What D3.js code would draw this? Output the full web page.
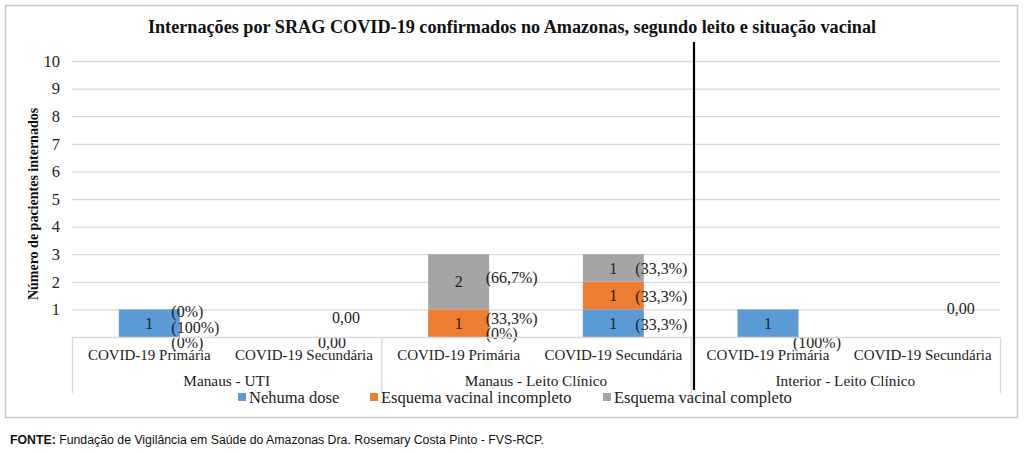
<!DOCTYPE html>
<html><head><meta charset="utf-8">
<script src="https://cdn.jsdelivr.net/npm/d3@7/dist/d3.min.js"></script>
<style>body{margin:0;background:#fff}svg{display:block}</style>
</head><body>
<script>
// ---- data ----
const groups = ["Manaus - UTI", "Manaus - Leito Clínico", "Interior - Leito Clínico"];
const categories = ["COVID-19 Primária", "COVID-19 Secundária", "COVID-19 Primária", "COVID-19 Secundária", "COVID-19 Primária", "COVID-19 Secundária"];
const seriesNames = ["Nehuma dose", "Esquema vacinal incompleto", "Esquema vacinal completo"];
const nenhumaDose = [1, 0, 0, 1, 1, 0];
const incompleto = [0, 0, 1, 1, 0, 0];
const completo = [0, 0, 2, 1, 0, 0];
const yTicks = [1, 2, 3, 4, 5, 6, 7, 8, 9, 10];
// percentage labels [category, series, text]
const pctLabels = [
  [0, 2, "(0%)"], [0, 0, "(100%)"], [0, 1, "(0%)"],
  [1, 0, "0,00"], [1, 1, "0,00"],
  [2, 2, "(66,7%)"], [2, 1, "(33,3%)"], [2, 0, "(0%)"],
  [3, 2, "(33,3%)"], [3, 1, "(33,3%)"], [3, 0, "(33,3%)"],
  [4, 0, "(100%)"],
  [5, 0, "0,00"]
];
// ---- layout nudges for percentage labels (dx, dy from segment centre) ----
const pctNudge = [
  [22, 2], [22, 4], [22, 33],
  [28, -20], [14, 5],
  [27, -4], [27, -5], [27, -4],
  [22, 0], [22, 1], [22, 1],
  [25, 19],
  [24, -29]
];

const W = 1024, H = 453;
const colors = ["#5b9bd5", "#ed7d31", "#a5a5a5"];
const serif = "'Liberation Serif','Times New Roman',serif";
const svg = d3.select("body").append("svg").attr("width", W).attr("height", H);

// outer border
svg.append("rect").attr("x", 5.5).attr("y", 5.5).attr("width", 1012).attr("height", 412)
  .attr("fill", "none").attr("stroke", "#c8c8c8").attr("stroke-width", 1.5);

const x0 = 72, x1 = 1000;
const x = d3.scaleBand().domain(d3.range(categories.length)).range([x0, x1]).paddingInner(0).paddingOuter(0);
const y = d3.scaleLinear().domain([0, 10]).range([337, 61]);
const bw = 61;

// gridlines
svg.append("g").selectAll("line").data(yTicks).join("line")
  .attr("x1", x0).attr("x2", x1).attr("y1", d => y(d) + 0.5).attr("y2", d => y(d) + 0.5)
  .attr("stroke", "#d9d9d9").attr("stroke-width", 1.3);

// y axis labels
const yAxis = d3.axisLeft(y).tickValues(yTicks).tickSize(0).tickPadding(0).tickFormat(d3.format("d"));
const gy = svg.append("g").attr("transform", `translate(${x0 - 12},0)`).call(yAxis);
gy.select(".domain").remove();
gy.selectAll("text").attr("font-family", serif).attr("font-size", 16.5).attr("fill", "#222");

// y title
svg.append("text").attr("transform", "translate(38,204) rotate(-90)").attr("text-anchor", "middle")
  .attr("font-family", serif).attr("font-size", 14).attr("font-weight", "bold").attr("fill", "#111")
  .text("Número de pacientes internados");

// title
svg.append("text").attr("x", 512).attr("y", 33).attr("text-anchor", "middle")
  .attr("font-family", serif).attr("font-size", 18.2).attr("font-weight", "bold").attr("fill", "#111")
  .text("Internações por SRAG COVID-19 confirmados no Amazonas, segundo leito e situação vacinal");

// stacked bars
const table = categories.map((c, i) => ({i, s0: nenhumaDose[i], s1: incompleto[i], s2: completo[i]}));
const stack = d3.stack().keys(["s0", "s1", "s2"])(table);
const gBars = svg.append("g");
stack.forEach((layer, si) => {
  gBars.selectAll(null).data(layer.filter(d => d[1] - d[0] > 0)).join("rect")
    .attr("x", d => x(d.data.i) + (x.bandwidth() - bw) / 2)
    .attr("width", bw)
    .attr("y", d => y(d[1]))
    .attr("height", d => y(d[0]) - y(d[1]))
    .attr("fill", colors[si]);
  gBars.selectAll(null).data(layer.filter(d => d[1] - d[0] > 0)).join("text")
    .attr("x", d => x(d.data.i) + x.bandwidth() / 2)
    .attr("y", d => (y(d[0]) + y(d[1])) / 2)
    .attr("dy", "0.35em").attr("text-anchor", "middle")
    .attr("font-family", serif).attr("font-size", 16).attr("fill", "#222")
    .text(d => d[1] - d[0]);
});

// percentage labels
svg.append("g").selectAll("text").data(pctLabels).join("text")
  .attr("x", (d, k) => x(d[0]) + x.bandwidth() / 2 + pctNudge[k][0])
  .attr("y", (d, k) => { const s = stack[d[1]][d[0]]; return (y(s[0]) + y(s[1])) / 2 + pctNudge[k][1]; })
  .attr("dy", "0.35em").attr("text-anchor", "start")
  .attr("font-family", serif).attr("font-size", 16).attr("fill", "#222")
  .text(d => d[2]);

// category axis box
const gc = svg.append("g");
gc.append("line").attr("x1", x0).attr("x2", x1).attr("y1", 337.5).attr("y2", 337.5).attr("stroke", "#d9d9d9").attr("stroke-width", 1.3);
const bounds = [0, 2, 4, 6];
gc.selectAll("line.v").data(bounds).join("line").attr("class", "v")
  .attr("x1", d => d < 6 ? x(d) + 0.5 : x1 + 0.5).attr("x2", d => d < 6 ? x(d) + 0.5 : x1 + 0.5)
  .attr("y1", 337).attr("y2", 393).attr("stroke", "#d9d9d9").attr("stroke-width", 1.3);
gc.selectAll("text.cat").data(categories).join("text").attr("class", "cat")
  .attr("x", (d, i) => x(i) + x.bandwidth() / 2).attr("y", 355).attr("dy", "0.35em")
  .attr("text-anchor", "middle").attr("font-family", serif).attr("font-size", 15).attr("fill", "#222")
  .text(d => d);
gc.selectAll("text.grp").data(groups).join("text").attr("class", "grp")
  .attr("x", (d, g) => (x(g * 2) + x(g * 2) + 2 * x.bandwidth()) / 2).attr("y", 381).attr("dy", "0.35em")
  .attr("text-anchor", "middle").attr("font-family", serif).attr("font-size", 15.3).attr("fill", "#222")
  .text(d => d);

// black vertical separator
svg.append("line").attr("x1", 694).attr("x2", 694).attr("y1", 42).attr("y2", 390)
  .attr("stroke", "#000").attr("stroke-width", 2.2);

// legend
const legendX = [238, 370, 603];
const gl = svg.append("g");
seriesNames.forEach((n, i) => {
  gl.append("rect").attr("x", legendX[i]).attr("y", 393).attr("width", 8).attr("height", 8).attr("fill", colors[i]);
  gl.append("text").attr("x", legendX[i] + 11).attr("y", 397).attr("dy", "0.35em")
    .attr("font-family", serif).attr("font-size", 16.5).attr("fill", "#222").text(n);
});

// footer
const ft = svg.append("text").attr("x", 10).attr("y", 444)
  .attr("font-family", "'Liberation Sans',Arial,sans-serif").attr("font-size", 12.3).attr("fill", "#111");
ft.append("tspan").attr("font-weight", "bold").text("FONTE:");
ft.append("tspan").text(" Fundação de Vigilância em Saúde do Amazonas Dra. Rosemary Costa Pinto - FVS-RCP.");
</script>
</body></html>
